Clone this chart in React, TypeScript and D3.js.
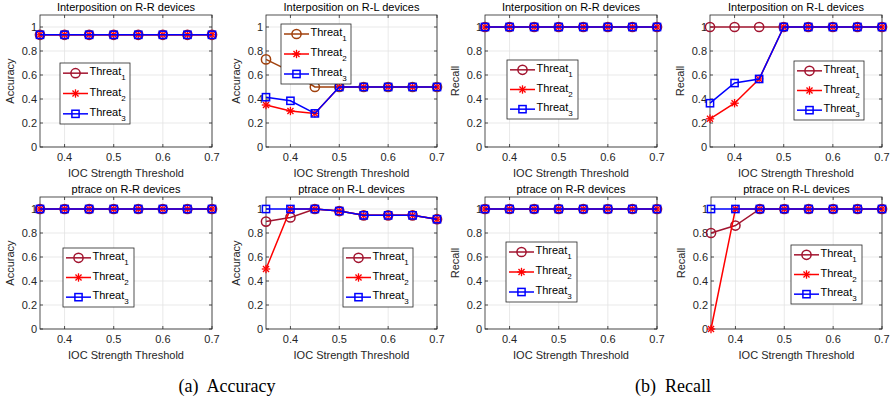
import React from "react";
import * as d3 from "d3";

const thresholds = [0.35, 0.4, 0.45, 0.5, 0.55, 0.6, 0.65, 0.7];
const xTicks = [0.4, 0.5, 0.6, 0.7];
const yTicks = [0, 0.2, 0.4, 0.6, 0.8, 1];
const seriesNames = ["Threat", "Threat", "Threat"];
const seriesSubs = ["1", "2", "3"];

// Accuracy, Interposition R-R
const accIntRR_t1 = [0.935, 0.935, 0.935, 0.935, 0.935, 0.935, 0.935, 0.935];
const accIntRR_t2 = [0.935, 0.935, 0.935, 0.935, 0.935, 0.935, 0.935, 0.935];
const accIntRR_t3 = [0.935, 0.935, 0.935, 0.935, 0.935, 0.935, 0.935, 0.935];
// Accuracy, Interposition R-L
const accIntRL_t1 = [0.73, 0.63, 0.5, 0.5, 0.5, 0.5, 0.5, 0.5];
const accIntRL_t2 = [0.35, 0.3, 0.28, 0.5, 0.5, 0.5, 0.5, 0.5];
const accIntRL_t3 = [0.415, 0.385, 0.28, 0.5, 0.5, 0.5, 0.5, 0.5];
// Recall, Interposition R-R
const recIntRR_t1 = [1, 1, 1, 1, 1, 1, 1, 1];
const recIntRR_t2 = [1, 1, 1, 1, 1, 1, 1, 1];
const recIntRR_t3 = [1, 1, 1, 1, 1, 1, 1, 1];
// Recall, Interposition R-L
const recIntRL_t1 = [1, 1, 1, 1, 1, 1, 1, 1];
const recIntRL_t2 = [0.235, 0.365, 0.567, 1, 1, 1, 1, 1];
const recIntRL_t3 = [0.365, 0.533, 0.567, 1, 1, 1, 1, 1];
// Accuracy, ptrace R-R
const accPtRR_t1 = [1, 1, 1, 1, 1, 1, 1, 1];
const accPtRR_t2 = [1, 1, 1, 1, 1, 1, 1, 1];
const accPtRR_t3 = [1, 1, 1, 1, 1, 1, 1, 1];
// Accuracy, ptrace R-L
const accPtRL_t1 = [0.895, 0.93, 1, 0.983, 0.947, 0.947, 0.947, 0.915];
const accPtRL_t2 = [0.5, 1, 1, 0.983, 0.947, 0.947, 0.947, 0.915];
const accPtRL_t3 = [1, 1, 1, 0.983, 0.947, 0.947, 0.947, 0.915];
// Recall, ptrace R-R
const recPtRR_t1 = [1, 1, 1, 1, 1, 1, 1, 1];
const recPtRR_t2 = [1, 1, 1, 1, 1, 1, 1, 1];
const recPtRR_t3 = [1, 1, 1, 1, 1, 1, 1, 1];
// Recall, ptrace R-L
const recPtRL_t1 = [0.8, 0.862, 1, 1, 1, 1, 1, 1];
const recPtRL_t2 = [0, 1, 1, 1, 1, 1, 1, 1];
const recPtRL_t3 = [1, 1, 1, 1, 1, 1, 1, 1];

const titles = [
  "Interposition on R-R devices",
  "Interposition on R-L devices",
  "Interposition on R-R devices",
  "Interposition on R-L devices",
  "ptrace on R-R devices",
  "ptrace on R-L devices",
  "ptrace on R-R devices",
  "ptrace on R-L devices",
];
const yLabels = ["Accuracy", "Accuracy", "Recall", "Recall", "Accuracy", "Accuracy", "Recall", "Recall"];
const xLabel = "IOC Strength Threshold";
const captions = ["(a)  Accuracy", "(b)  Recall"];

const panelData = [
  [accIntRR_t1, accIntRR_t2, accIntRR_t3],
  [accIntRL_t1, accIntRL_t2, accIntRL_t3],
  [recIntRR_t1, recIntRR_t2, recIntRR_t3],
  [recIntRL_t1, recIntRL_t2, recIntRL_t3],
  [accPtRR_t1, accPtRR_t2, accPtRR_t3],
  [accPtRL_t1, accPtRL_t2, accPtRL_t3],
  [recPtRR_t1, recPtRR_t2, recPtRR_t3],
  [recPtRL_t1, recPtRL_t2, recPtRL_t3],
];

// layout
const panelBoxes = [
  { l: 40, r: 212, t: 15, b: 147 },
  { l: 266, r: 437, t: 15, b: 147 },
  { l: 485, r: 657, t: 15, b: 147 },
  { l: 710, r: 882, t: 15, b: 147 },
  { l: 40, r: 212, t: 197, b: 329 },
  { l: 266, r: 437, t: 197, b: 329 },
  { l: 485, r: 657, t: 197, b: 329 },
  { l: 711, r: 882, t: 197, b: 329 },
];
const legendBoxes = [
  { x: 60, y: 63, w: 70, h: 61 },
  { x: 281, y: 24, w: 70, h: 60 },
  { x: 507, y: 60, w: 71, h: 59 },
  { x: 794, y: 61, w: 70, h: 59 },
  { x: 63, y: 248, w: 71, h: 59 },
  { x: 343, y: 248, w: 70, h: 59 },
  { x: 506, y: 242, w: 71, h: 60 },
  { x: 791, y: 245, w: 71, h: 59 },
];
const colorsDefault = ["#A2142F", "#FF0000", "#0000FF"];
const colorsBrown = ["#A0400C", "#FF0000", "#0000FF"];

const FONT = "'Liberation Sans', Arial, Helvetica, sans-serif";
const AXC = "#262626";

function Marker({ kind, x, y, color }: { kind: number; x: number; y: number; color: string }) {
  if (kind === 0) {
    return <circle cx={x} cy={y} r={4.6} fill="none" stroke={color} strokeWidth={1.5} />;
  }
  if (kind === 1) {
    const s = 4.2;
    const d = s * 0.72;
    return (
      <g stroke={color} strokeWidth={1.3}>
        <line x1={x - s} y1={y} x2={x + s} y2={y} />
        <line x1={x} y1={y - s} x2={x} y2={y + s} />
        <line x1={x - d} y1={y - d} x2={x + d} y2={y + d} />
        <line x1={x - d} y1={y + d} x2={x + d} y2={y - d} />
      </g>
    );
  }
  const h = 3.6;
  return <rect x={x - h} y={y - h} width={2 * h} height={2 * h} fill="none" stroke={color} strokeWidth={1.5} />;
}

function Panel({ idx }: { idx: number }) {
  const box = panelBoxes[idx];
  const x = d3.scaleLinear().domain([0.35, 0.7]).range([box.l, box.r]);
  const y = d3.scaleLinear().domain([0, 1.1]).range([box.b, box.t]);
  const colors = idx === 1 ? colorsBrown : colorsDefault;
  const line = d3
    .line<number>()
    .x((_, i) => x(thresholds[i]))
    .y((d) => y(d));
  const lg = legendBoxes[idx];
  const cx = (box.l + box.r) / 2;
  const tl = 3;
  return (
    <g>
      {xTicks.map((t) => (
        <line key={"gx" + t} x1={x(t)} x2={x(t)} y1={box.t} y2={box.b} stroke="#e3e3e3" strokeWidth={0.8} />
      ))}
      {yTicks.map((t) => (
        <line key={"gy" + t} x1={box.l} x2={box.r} y1={y(t)} y2={y(t)} stroke="#e3e3e3" strokeWidth={0.8} />
      ))}
      <rect x={box.l} y={box.t} width={box.r - box.l} height={box.b - box.t} fill="none" stroke={AXC} strokeWidth={0.8} />
      {xTicks.map((t) => (
        <g key={"tx" + t}>
          <line x1={x(t)} x2={x(t)} y1={box.b} y2={box.b - tl} stroke={AXC} strokeWidth={0.8} />
          <line x1={x(t)} x2={x(t)} y1={box.t} y2={box.t + tl} stroke={AXC} strokeWidth={0.8} />
          <text x={x(t)} y={box.b + 14} textAnchor="middle" fontSize={11} fill={AXC} fontFamily={FONT}>
            {d3.format("")(t)}
          </text>
        </g>
      ))}
      {yTicks.map((t) => (
        <g key={"ty" + t}>
          <line x1={box.l} x2={box.l + tl} y1={y(t)} y2={y(t)} stroke={AXC} strokeWidth={0.8} />
          <line x1={box.r} x2={box.r - tl} y1={y(t)} y2={y(t)} stroke={AXC} strokeWidth={0.8} />
          <text x={box.l - 3} y={y(t) + 4} textAnchor="end" fontSize={11} fill={AXC} fontFamily={FONT}>
            {d3.format("")(t)}
          </text>
        </g>
      ))}
      <text x={cx} y={box.t - 4} textAnchor="middle" fontSize={11} fill="#000" fontFamily={FONT}>
        {titles[idx]}
      </text>
      <text x={cx} y={box.b + 30} textAnchor="middle" fontSize={11} fill={AXC} fontFamily={FONT}>
        {xLabel}
      </text>
      <text
        transform={`translate(${box.l - 26},${(box.t + box.b) / 2}) rotate(-90)`}
        textAnchor="middle"
        fontSize={11}
        fill={AXC}
        fontFamily={FONT}
      >
        {yLabels[idx]}
      </text>
      {panelData[idx].map((vals, s) => (
        <g key={"s" + s}>
          <path d={line(vals) || ""} fill="none" stroke={colors[s]} strokeWidth={1.5} />
          {vals.map((v, i) => (
            <Marker key={i} kind={s} x={x(thresholds[i])} y={y(v)} color={colors[s]} />
          ))}
        </g>
      ))}
      <rect x={lg.x} y={lg.y} width={lg.w} height={lg.h} fill="#fff" stroke={AXC} strokeWidth={0.8} />
      {seriesNames.map((name, s) => {
        const ry = lg.y + (lg.h * (2 * s + 1)) / 6;
        return (
          <g key={"lg" + s}>
            <line x1={lg.x + 3} x2={lg.x + 28} y1={ry} y2={ry} stroke={colors[s]} strokeWidth={1.5} />
            <Marker kind={s} x={lg.x + 15.5} y={ry} color={colors[s]} />
            <text x={lg.x + 29.5} y={ry + 2} fontSize={11} fill="#000" fontFamily={FONT}>
              {name}
              <tspan fontSize={8} dy={5}>
                {seriesSubs[s]}
              </tspan>
            </text>
          </g>
        );
      })}
    </g>
  );
}

export default function App() {
  return (
    <svg width={891} height={406} style={{ position: "absolute", left: 0, top: 0, background: "#fff" }}>
      <rect x={0} y={0} width={891} height={406} fill="#fff" />
      {panelBoxes.map((_, i) => (
        <Panel key={i} idx={i} />
      ))}
      <text x={227} y={392} textAnchor="middle" fontSize={18} fontFamily="'Liberation Serif', 'Times New Roman', serif" fill="#000" xmlSpace="preserve">
        {captions[0]}
      </text>
      <text x={673} y={392} textAnchor="middle" fontSize={18} fontFamily="'Liberation Serif', 'Times New Roman', serif" fill="#000" xmlSpace="preserve">
        {captions[1]}
      </text>
    </svg>
  );
}
